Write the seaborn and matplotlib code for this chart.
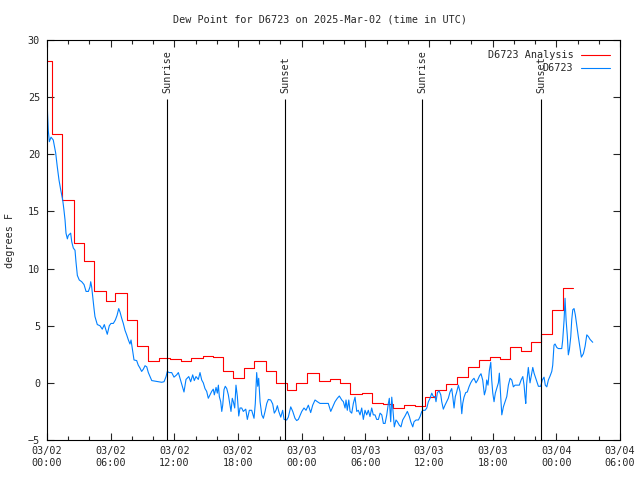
import pandas as pd
import matplotlib
matplotlib.use('Agg')
import matplotlib.pyplot as plt
import matplotlib.dates as mdates
import seaborn as sns

# Hours after 2025-03-02 00:00 UTC
red_hours = [0.0, 0.5, 1.45, 2.5, 3.45, 4.45, 5.55, 6.45, 7.5, 8.5, 9.55, 10.55,
             11.6, 12.6, 13.6, 14.7, 15.6, 16.6, 17.5, 18.55, 19.55, 20.6, 21.6,
             22.6, 23.5, 24.5, 25.6, 26.65, 27.65, 28.6, 29.65, 30.65, 31.7, 32.65,
             33.65, 34.7, 35.6, 36.6, 37.6, 38.6, 39.65, 40.7, 41.75, 42.7, 43.65,
             44.65, 45.6, 46.6, 47.6, 48.6, 49.6]
red_vals = [28.2, 21.8, 16.0, 12.2, 10.7, 8.0, 7.2, 7.9, 5.5, 3.2, 1.9, 2.2,
            2.1, 1.9, 2.15, 2.35, 2.3, 1.0, 0.4, 1.3, 1.9, 1.05, 0.0,
            -0.6, 0.0, 0.9, 0.2, 0.3, 0.0, -1.0, -0.9, -1.8, -1.85, -2.2,
            -1.9, -2.0, -1.25, -0.65, -0.1, 0.5, 1.4, 2.0, 2.3, 2.1, 3.1,
            2.8, 3.6, 4.3, 6.35, 8.3, 8.3]

blue_hours = [0.00, 0.05, 0.12, 0.22, 0.38, 0.59, 0.82, 0.97, 1.13, 1.29, 1.48, 1.60,
              1.70, 1.79, 1.92, 2.01, 2.23, 2.33, 2.48, 2.64, 2.73, 2.86, 3.04, 3.27,
              3.49, 3.68, 3.90, 4.05, 4.12, 4.21, 4.31, 4.43, 4.52, 4.74, 4.99, 5.21,
              5.40, 5.53, 5.68, 5.87, 6.03, 6.25, 6.44, 6.60, 6.76, 6.88, 7.04, 7.19,
              7.35, 7.51, 7.67, 7.82, 7.92, 8.04, 8.20, 8.45, 8.60, 8.76, 8.92, 9.08,
              9.24, 9.40, 9.55, 9.71, 9.87, 10.18, 10.49, 10.81, 11.03, 11.22, 11.34,
              11.50, 11.75, 11.97, 12.22, 12.38, 12.60, 12.91, 13.10, 13.36, 13.54,
              13.73, 13.88, 14.04, 14.26, 14.42, 14.58, 14.73, 14.89, 15.05, 15.20,
              15.36, 15.52, 15.67, 15.77, 15.93, 16.05, 16.15, 16.24, 16.37, 16.47,
              16.56, 16.68, 16.80, 16.94, 17.09, 17.25, 17.34, 17.46, 17.56, 17.69,
              17.81, 17.94, 18.07, 18.19, 18.35, 18.50, 18.73, 18.88, 19.07, 19.29,
              19.51, 19.63, 19.76, 19.86, 19.95, 20.08, 20.24, 20.39, 20.55, 20.71,
              20.86, 21.08, 21.27, 21.42, 21.58, 21.71, 21.84, 22.03, 22.21, 22.34,
              22.59, 22.74, 22.97, 23.16, 23.37, 23.53, 23.69, 24.01, 24.22, 24.41,
              24.63, 24.85, 25.04, 25.26, 25.48, 25.73, 26.20, 26.51, 26.74, 26.93,
              27.14, 27.36, 27.55, 27.78, 27.93, 28.09, 28.18, 28.30, 28.44, 28.56,
              28.72, 28.87, 29.03, 29.19, 29.34, 29.50, 29.66, 29.81, 29.97, 30.13,
              30.28, 30.44, 30.60, 30.75, 30.91, 31.07, 31.23, 31.39, 31.55, 31.70,
              31.86, 32.02, 32.17, 32.26, 32.39, 32.49, 32.64, 32.73, 32.89, 33.02,
              33.20, 33.36, 33.52, 33.74, 33.96, 34.15, 34.28, 34.47, 34.59, 34.78,
              35.00, 35.16, 35.32, 35.47, 35.63, 35.79, 35.94, 36.10, 36.26, 36.41,
              36.57, 36.66, 36.79, 36.95, 37.11, 37.20, 37.35, 37.51, 37.67, 37.82,
              37.98, 38.14, 38.24, 38.36, 38.48, 38.61, 38.77, 38.93, 39.09, 39.18,
              39.30, 39.46, 39.61, 39.77, 39.93, 40.09, 40.24, 40.43, 40.59, 40.75,
              40.90, 41.06, 41.22, 41.35, 41.44, 41.56, 41.69, 41.82, 41.91, 42.01,
              42.13, 42.25, 42.38, 42.54, 42.63, 42.76, 42.86, 43.01, 43.17, 43.33,
              43.48, 43.64, 43.80, 43.95, 44.11, 44.27, 44.51, 44.68, 44.84, 44.96,
              45.05, 45.12, 45.21, 45.36, 45.52, 45.68, 45.78, 45.90, 46.06, 46.21,
              46.31, 46.53, 46.68, 46.84, 46.96, 47.10, 47.25, 47.41, 47.57, 47.66,
              47.78, 47.88, 48.04, 48.19, 48.51, 48.60, 48.73, 48.82, 48.92, 49.04,
              49.13, 49.23, 49.36, 49.45, 49.55, 49.67, 49.79, 49.92, 50.07, 50.24,
              50.36, 50.55, 50.71, 50.87, 51.02, 51.18, 51.43]
blue_vals = [25.4, 23.6, 22.1, 21.1, 21.5, 21.25, 20.1, 18.9, 17.75, 16.9, 16.0, 15.1,
             14.25, 13.1, 12.6, 12.9, 13.1, 12.35, 11.8, 11.6, 10.6, 9.4, 9.0, 8.85,
             8.6, 8.0, 8.0, 8.4, 8.85, 8.4, 7.5, 6.5, 5.8, 5.1, 5.0, 4.7,
             5.1, 4.7, 4.25, 5.0, 5.2, 5.2, 5.5, 5.9, 6.5, 6.2, 5.65, 5.2,
             4.6, 4.2, 3.75, 3.4, 3.75, 3.0, 2.0, 1.95, 1.55, 1.3, 1.0, 1.2,
             1.5, 1.4, 0.9, 0.55, 0.2, 0.15, 0.1, 0.05, 0.1, 0.55, 1.0,
             0.9, 0.9, 0.5, 0.7, 0.9, 0.2, -0.8, 0.3, 0.55, 0.1,
             0.7, 0.2, 0.55, 0.3, 0.9, 0.25, 0.0, -0.5, -0.75, -1.35,
             -1.05, -0.75, -0.55, -1.05, -0.4, -0.9, -0.2, -1.2, -1.65, -2.5,
             -1.95, -0.6, -0.3, -0.5, -1.05, -1.95, -2.5, -1.35, -1.65, -2.2,
             -0.2, -1.2, -2.9, -2.2, -2.2, -2.5, -2.3, -3.2, -2.4, -2.4,
             -3.1, -1.8, 0.9, -0.3, 0.4, -1.65, -2.8, -3.1, -2.5, -1.8,
             -1.45, -1.5, -1.85, -2.65, -2.4, -2.0, -2.5, -3.0, -2.4, -3.2,
             -3.25, -3.0, -2.1, -2.5, -3.1, -3.3, -3.2, -2.5, -2.2, -2.4,
             -1.95, -2.6, -1.95, -1.5, -1.65, -1.8, -1.8, -1.8, -2.5, -2.1,
             -1.65, -1.35, -1.15, -1.5, -1.65, -2.2, -1.5, -2.4, -1.5, -2.5,
             -2.65, -1.8, -1.25, -2.5, -2.4, -2.8, -2.2, -3.2, -2.4, -2.8,
             -2.4, -2.95, -2.2, -2.8, -2.8, -3.2, -3.2, -2.65, -2.8, -3.55,
             -3.55, -2.8, -1.8, -1.35, -3.4, -1.25, -2.8, -3.85, -3.25, -3.4,
             -3.7, -3.85, -3.25, -2.9, -2.5, -2.95, -3.4, -3.85, -3.4, -3.25,
             -3.25, -2.95, -2.5, -2.4, -2.4, -2.2, -1.65, -1.35, -0.9, -1.2,
             -1.2, -1.65, -0.85, -0.7, -1.05, -1.65, -2.3, -1.95, -1.65, -1.35,
             -0.8, -0.5, -1.2, -2.2, -1.2, -0.8, -0.2, -0.8, -2.7, -1.8,
             -1.25, -0.85, -0.8, -0.35, 0.0, 0.25, 0.4, 0.0, 0.25, 0.6,
             0.8, 0.25, -1.05, -0.6, 0.25, -0.2, 1.1, 1.8, 0.25, -0.9,
             -1.65, -0.9, -0.5, 0.0, 0.85, -1.2, -2.8, -2.1, -1.65, -1.2,
             -0.2, 0.4, 0.25, -0.35, -0.2, -0.2, -0.2, 0.25, 0.55, -0.2,
             -1.2, -1.8, 0.0, 1.35, 0.0, 0.85, 1.35, 0.85, 0.4, 0.0,
             -0.3, -0.3, 0.25, 0.5, -0.2, -0.35, 0.25, 0.6, 1.0, 1.55,
             3.3, 3.4, 3.1, 3.0, 3.0, 3.75, 5.5, 7.4, 5.5, 4.05,
             2.45, 2.9, 4.05, 5.5, 6.4, 6.5, 5.95, 5.05, 4.05, 3.0,
             2.25, 2.55, 3.2, 4.2, 4.05, 3.8, 3.55]

sun_times = ['2025-03-02 11:19', '2025-03-02 22:26', '2025-03-03 11:20', '2025-03-03 22:34']
sun_labels = ['Sunrise', 'Sunset', 'Sunrise', 'Sunset']

start = pd.Timestamp('2025-03-02 00:00')
red_df = pd.DataFrame({'time': start + pd.to_timedelta(red_hours, unit='h'), 'value': red_vals})
blue_df = pd.DataFrame({'time': start + pd.to_timedelta(blue_hours, unit='h'), 'value': blue_vals})

sns.set_style('ticks')
plt.rcParams['font.family'] = ['DejaVu Sans Mono']
plt.rcParams['font.size'] = 7.3

fig = plt.figure(figsize=(6.4, 4.8), dpi=100)
ax = fig.add_axes([47 / 640, 40 / 480, 573 / 640, 400 / 480])

sns.lineplot(data=red_df, x='time', y='value', drawstyle='steps-post', color='#ff0000',
             lw=0.8, label='D6723 Analysis', ax=ax)
sns.lineplot(data=blue_df, x='time', y='value', color='#0080ff', lw=0.8, label='D6723', ax=ax)

# sunrise / sunset markers
for t, lab in zip(sun_times, sun_labels):
    xt = mdates.date2num(pd.Timestamp(t))
    ax.vlines(xt, -5, 24.8, color='black', lw=0.8)
    ax.text(xt, 25.4, lab, rotation=90, ha='center', va='bottom', fontsize=7.3)

ax.set_xlim(start, start + pd.Timedelta(hours=54))
ax.set_ylim(-5, 30)
ax.set_yticks(range(-5, 31, 5))
ax.xaxis.set_major_locator(mdates.HourLocator(byhour=[0, 6, 12, 18]))
ax.xaxis.set_minor_locator(mdates.HourLocator(byhour=range(0, 24, 2)))
ax.xaxis.set_major_formatter(mdates.DateFormatter('%m/%d\n%H:%M'))
for lbl in ax.get_xticklabels():
    lbl.set_linespacing(1.35)

ax.tick_params(which='both', direction='in', top=True, right=True, width=0.8, labelsize=7.3)
ax.tick_params(which='major', length=5)
ax.tick_params(which='minor', length=3)
ax.tick_params(axis='y', pad=5)
ax.tick_params(axis='x', pad=4)
for s in ax.spines.values():
    s.set_linewidth(0.8)
    s.set_color('black')

ax.set_xlabel('')
ax.set_ylabel('')
fig.text(10 / 640, 0.5, 'degrees F', rotation=90, ha='center', va='center', fontsize=7.3)
fig.text(0.5, 1 - 19 / 480, 'Dew Point for D6723 on 2025-Mar-02 (time in UTC)',
         ha='center', va='center', fontsize=7.3)

ax.legend(loc='upper right', frameon=False, markerfirst=False, handlelength=2.8,
          handletextpad=0.8, labelspacing=0.3, borderaxespad=0.6, fontsize=7.3)

fig.savefig('out.png', dpi=100)
